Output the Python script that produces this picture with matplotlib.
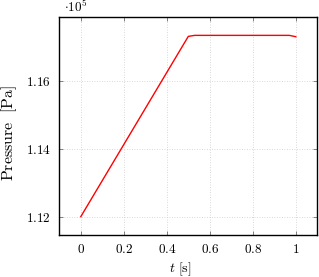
import matplotlib
matplotlib.use("Agg")
import matplotlib.pyplot as plt
from matplotlib.ticker import FuncFormatter

plt.rcParams['mathtext.fontset'] = 'cm'
plt.rcParams['font.family'] = 'serif'
plt.rcParams['font.serif'] = ['cmr10', 'DejaVu Serif']
plt.rcParams['axes.formatter.use_mathtext'] = True

t = [0.0, 0.5, 0.53, 0.97, 1.0]
pressure = [1.1200e5, 1.1730e5, 1.1733e5, 1.1733e5, 1.1729e5]

fig = plt.figure(figsize=(3.19, 2.77), dpi=100)
ax = fig.add_axes([59.3 / 319, 1 - 235 / 277, (317.3 - 59.3) / 319, (235 - 17) / 277])

ax.plot(t, pressure, color='#ff0000', lw=1.0)

ax.set_xlim(-0.1, 1.1)
ax.set_ylim(1.1146e5, 1.1787e5)
ax.set_xticks([0, 0.2, 0.4, 0.6, 0.8, 1.0])
ax.set_yticks([1.12e5, 1.14e5, 1.16e5])
ax.xaxis.set_major_formatter(FuncFormatter(lambda v, p: '$%g$' % round(v, 2)))
ax.yaxis.set_major_formatter(FuncFormatter(lambda v, p: '$%.2f$' % (v / 1e5)))

ax.grid(True, color='#cccccc', ls=(0, (1, 2)), lw=0.6)
ax.tick_params(direction='in', top=True, right=True, length=3, width=0.5,
               color='#555555', labelsize=9.5, pad=6)
for s in ax.spines.values():
    s.set_linewidth(1.0)

ax.set_ylabel(r'$\mathrm{Pressure}\ \ [\mathrm{Pa}]$', fontsize=11.5)
ax.yaxis.set_label_coords(-0.155, 0.47)
ax.set_xlabel(r'$t\ [\mathrm{s}]$', fontsize=10)
ax.xaxis.set_label_coords(0.47, -0.115)
ax.text(0.02, 1.008, r'$\cdot 10^5$', transform=ax.transAxes, fontsize=9.5,
        ha='left', va='bottom')

fig.savefig('out.png', dpi=100)
